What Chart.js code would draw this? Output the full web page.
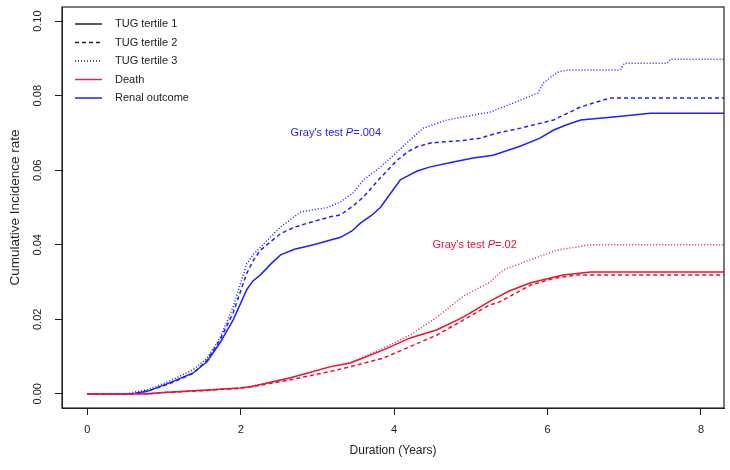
<!DOCTYPE html>
<html>
<head>
<meta charset="utf-8">
<script src="https://cdn.jsdelivr.net/npm/chart.js@4.4.0/dist/chart.umd.min.js"></script>
<style>
  html, body { margin: 0; padding: 0; background: #fff; }
  #wrap { width: 730px; height: 470px; }
</style>
</head>
<body>
<div id="wrap"><canvas id="cifChart"></canvas></div>
<script>
// cumulative incidence curves, points are [years, rate]
const renalT1 = [[0,0],[0.6,0],[0.8,0.0008],[1.08,0.003],[1.38,0.0056],[1.56,0.0086],[1.73,0.0137],[1.9,0.0198],[2.08,0.028],[2.16,0.0303],[2.26,0.032],[2.4,0.035],[2.52,0.0373],[2.7,0.0388],[2.95,0.040],[3.3,0.042],[3.45,0.0437],[3.56,0.0458],[3.7,0.0478],[3.82,0.050],[3.95,0.0537],[4.08,0.0574],[4.16,0.0583],[4.3,0.0598],[4.47,0.0609],[4.77,0.0622],[5.03,0.0633],[5.29,0.064],[5.65,0.0665],[5.9,0.0686],[6.08,0.0708],[6.25,0.0722],[6.43,0.0735],[6.86,0.0743],[7.34,0.0753],[8.4,0.0753]];
const renalT2 = [[0,0],[0.6,0],[0.8,0.0008],[1.08,0.0028],[1.38,0.0055],[1.56,0.009],[1.73,0.0145],[1.9,0.0217],[2.08,0.0324],[2.17,0.036],[2.26,0.0386],[2.4,0.041],[2.52,0.043],[2.7,0.0447],[2.87,0.0458],[3.17,0.0475],[3.3,0.048],[3.45,0.0502],[3.6,0.0528],[3.8,0.0575],[4.04,0.0627],[4.18,0.065],[4.3,0.0663],[4.47,0.0673],[4.9,0.068],[5.12,0.0686],[5.35,0.070],[5.65,0.0713],[6.08,0.0735],[6.25,0.0752],[6.43,0.077],[6.82,0.0794],[8.4,0.0794]];
const renalT3 = [[0,0],[0.5,0],[0.8,0.0012],[1.08,0.0035],[1.38,0.0065],[1.56,0.0095],[1.73,0.015],[1.9,0.0233],[2.08,0.035],[2.17,0.0375],[2.26,0.0394],[2.52,0.0448],[2.78,0.0488],[3.13,0.050],[3.3,0.0515],[3.47,0.054],[3.6,0.0574],[3.8,0.0605],[3.99,0.064],[4.2,0.068],[4.38,0.0713],[4.69,0.0735],[5.25,0.0756],[5.55,0.078],[5.87,0.0807],[5.95,0.0835],[6.13,0.0863],[6.26,0.0869],[6.95,0.0869],[7.0,0.0887],[7.56,0.0887],[7.6,0.0898],[8.4,0.0898]];
const deathT1 = [[0,0],[0.8,0],[0.95,0.0003],[1.56,0.001],[2.0,0.0016],[2.13,0.0019],[2.26,0.0025],[2.65,0.0043],[3.17,0.0073],[3.43,0.0083],[3.86,0.0118],[4.21,0.015],[4.56,0.0172],[4.9,0.0206],[5.25,0.0249],[5.5,0.0276],[5.78,0.0298],[6.2,0.0319],[6.56,0.0327],[8.4,0.0327]];
const deathT2 = [[0,0],[0.8,0],[0.95,0.0003],[1.56,0.0009],[2.0,0.0015],[2.26,0.0023],[2.65,0.0038],[3.17,0.006],[3.43,0.0073],[3.86,0.0096],[4.21,0.0127],[4.56,0.0158],[4.9,0.0198],[5.25,0.0239],[5.35,0.0244],[5.78,0.0292],[6.1,0.0311],[6.39,0.0319],[8.4,0.0319]];
const deathT3 = [[0,0],[0.8,0],[0.95,0.0003],[1.56,0.001],[2.0,0.0016],[2.26,0.0025],[2.65,0.0043],[3.17,0.0072],[3.43,0.0084],[3.86,0.0123],[4.21,0.0158],[4.56,0.0206],[4.9,0.0262],[5.25,0.030],[5.42,0.0332],[5.8,0.0362],[6.13,0.0386],[6.56,0.040],[8.4,0.040]];

const xTicks = [0, 2, 4, 6, 8];
const yTicks = [0, 0.02, 0.04, 0.06, 0.08, 0.10];
const yTickLabels = ['0.00', '0.02', '0.04', '0.06', '0.08', '0.10'];

const legendLabels = ['TUG tertile 1', 'TUG tertile 2', 'TUG tertile 3', 'Death', 'Renal outcome'];
const renalPValue = '.004';
const deathPValue = '.02';

const BLUE = '#1f1fff';
const RED = '#e8142e';
const RED_DOT = '#d42a60';
const INK = '#222';
const SOLID = [];
const DASHED = [4, 3];
const DOTTED = [1, 2];
const FONT = '"Liberation Sans", Arial, Helvetica, sans-serif';

function toXY(points) {
    return points.map(p => ({ x: p[0], y: p[1] }));
}

function curve(points, color, dash) {
    return {
        data: toXY(points),
        borderColor: color,
        borderDash: dash,
        borderWidth: 1.5,
        pointRadius: 0,
        tension: 0,
        fill: false
    };
}

function grayText(ctx, x, y, color, pval) {
    ctx.fillStyle = color;
    ctx.textAlign = 'left';
    ctx.textBaseline = 'middle';
    ctx.font = '11px ' + FONT;
    const a = "Gray's test ";
    ctx.fillText(a, x, y);
    x += ctx.measureText(a).width;
    ctx.font = 'italic 11px ' + FONT;
    ctx.fillText('P', x, y);
    x += ctx.measureText('P').width;
    ctx.font = '11px ' + FONT;
    ctx.fillText('=' + pval, x, y);
}

// box, rotated y labels, legend and test notes, drawn R-style
const framePlugin = {
    id: 'frame',
    afterDraw(chart) {
        const { ctx, chartArea: a, scales: { x, y } } = chart;
        ctx.save();
        ctx.strokeStyle = INK;
        ctx.lineWidth = 1.2;
        ctx.setLineDash([]);
        ctx.strokeRect(a.left, a.top, a.right - a.left, a.bottom - a.top);

        ctx.fillStyle = INK;
        ctx.font = '11px ' + FONT;
        ctx.textAlign = 'center';
        ctx.textBaseline = 'middle';
        yTicks.forEach((v, i) => {
            ctx.save();
            ctx.translate(38, y.getPixelForValue(v));
            ctx.rotate(-Math.PI / 2);
            ctx.fillText(yTickLabels[i], 0, 0);
            ctx.restore();
        });

        const colors = [INK, INK, INK, RED_DOT, BLUE];
        const dashes = [SOLID, DASHED, DOTTED, SOLID, SOLID];
        legendLabels.forEach((label, i) => {
            const ly = 24 + i * 18.5;
            ctx.strokeStyle = colors[i];
            ctx.lineWidth = 1.5;
            ctx.setLineDash(dashes[i]);
            ctx.beginPath();
            ctx.moveTo(75, ly);
            ctx.lineTo(102, ly);
            ctx.stroke();
            ctx.fillStyle = INK;
            ctx.font = '11px ' + FONT;
            ctx.textAlign = 'left';
            ctx.fillText(label, 115, ly);
        });
        ctx.setLineDash([]);

        grayText(ctx, x.getPixelForValue(2.65), y.getPixelForValue(0.070), BLUE, renalPValue);
        grayText(ctx, x.getPixelForValue(4.5), y.getPixelForValue(0.040), RED, deathPValue);
        ctx.restore();
    }
};

const ctx = document.getElementById('cifChart').getContext('2d');
const cifChart = new Chart(ctx, {
    type: 'line',
    data: {
        datasets: [
            curve(deathT2, RED, DASHED),
            curve(deathT3, RED_DOT, DOTTED),
            curve(deathT1, RED, SOLID),
            curve(renalT2, BLUE, DASHED),
            curve(renalT3, BLUE, DOTTED),
            curve(renalT1, BLUE, SOLID)
        ]
    },
    options: {
        responsive: true,
        maintainAspectRatio: false,
        animation: false,
        devicePixelRatio: 1,
        layout: { padding: { top: 7, right: 6, left: 0, bottom: 0 } },
        plugins: {
            legend: { display: false },
            tooltip: { enabled: false }
        },
        scales: {
            x: {
                type: 'linear',
                min: -0.33,
                max: 8.3,
                afterBuildTicks: s => { s.ticks = xTicks.map(v => ({ value: v })); },
                afterFit: s => { s.height = 62; },
                ticks: { color: INK, padding: 8, font: { size: 11, family: FONT } },
                grid: { drawOnChartArea: false, tickLength: 7, color: INK },
                border: { display: true, color: INK },
                title: {
                    display: true,
                    text: 'Duration (Years)',
                    color: INK,
                    font: { size: 12, family: FONT },
                    padding: { top: 0, bottom: 12 }
                }
            },
            y: {
                type: 'linear',
                min: -0.0038,
                max: 0.1038,
                afterBuildTicks: s => { s.ticks = yTicks.map(v => ({ value: v })); },
                afterFit: s => { s.width = 62; },
                ticks: { display: false },
                grid: { drawOnChartArea: false, tickLength: 7, color: INK },
                border: { display: true, color: INK },
                title: {
                    display: true,
                    text: 'Cumulative Incidence rate',
                    color: INK,
                    font: { size: 13.5, family: FONT },
                    padding: { top: 7, bottom: 0 }
                }
            }
        }
    },
    plugins: [framePlugin]
});
</script>
</body>
</html>
